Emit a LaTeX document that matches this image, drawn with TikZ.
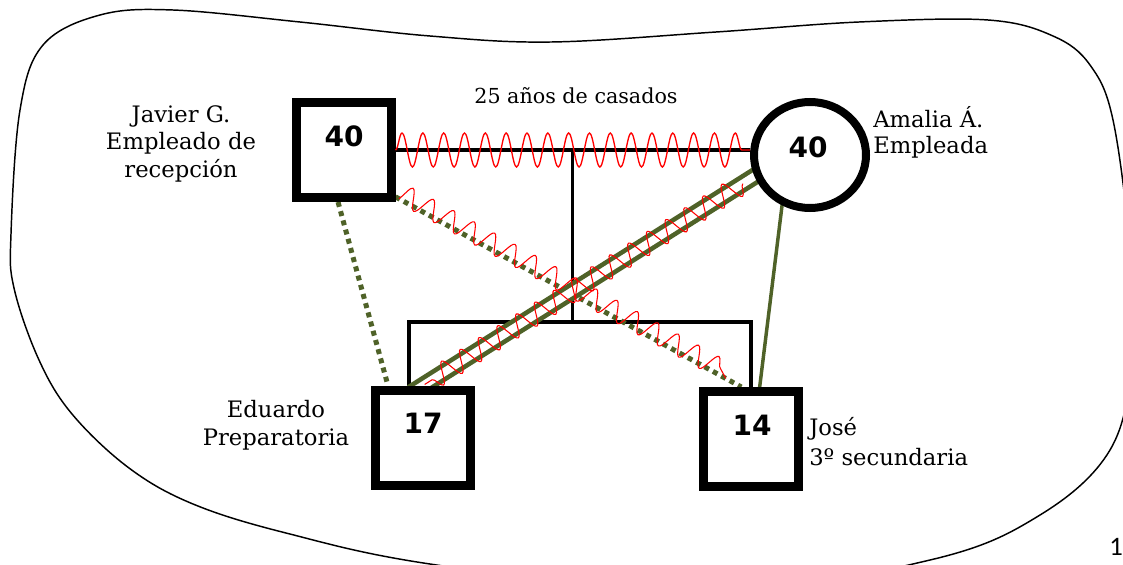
\documentclass[tikz,border=0pt]{standalone}
\usepackage{fontspec}
\setmainfont{DejaVu Serif}
\newfontfamily\agefont{DejaVu Sans}
\newfontfamily\pagefont{Carlito}
\usetikzlibrary{shapes.geometric,calc,decorations.pathmorphing,backgrounds}
\definecolor{kin}{RGB}{79,98,40}
\definecolor{wavered}{RGB}{255,0,0}

\begin{document}
\begin{tikzpicture}[x=0.75pt,y=-0.75pt,
  male/.style={draw,fill=white,line width=6.75pt,minimum size=71.25pt,inner sep=0pt},
  female/.style={ellipse,draw,fill=white,line width=6pt,minimum width=84pt,minimum height=79.5pt,inner sep=0pt},
  age/.style={font=\agefont\bfseries\fontsize{21}{24}\selectfont,inner sep=0pt},
  lbl/.style={inner sep=0pt},
  famline/.style={line width=3pt},
  dotline/.style={kin,line width=3.75pt,dash pattern=on 3.75pt off 3.4pt},
  bondline/.style={kin,line width=3.5pt,double=white,double distance=6pt},
  solidkin/.style={kin,line width=2.6pt},
  wave/.style={wavered,line width=0.8pt},
]
\useasboundingbox (0,0) rectangle (1123,564);

% family members
\node[male] (javier) at (343.5,150) {};
\node[female] (amalia) at (810,155) {};
\node[male] (eduardo) at (423,437.5) {};
\node[male] (jose) at (750.5,439) {};

\node[age] (javier-age) at (344,136) {40};
\node[age] (amalia-age) at (808,147) {40};
\node[age] (eduardo-age) at (423,423) {17};
\node[age] (jose-age) at (752,425) {14};

% names and occupations (anchored on the baseline of the last line)
\node[lbl,align=center,anchor=base,font=\fontsize{17}{20.6}\selectfont] (javier-txt) at (181,177)
  {Javier G.\\Empleado de\\recepción};
\node[lbl,align=left,anchor=base west,font=\fontsize{17}{19.5}\selectfont] (amalia-txt) at (873,153)
  {Amalia Á.\\Empleada};
\node[lbl,align=center,anchor=base,font=\fontsize{17}{21}\selectfont] (eduardo-txt) at (276,445)
  {Eduardo\\Preparatoria};
\node[lbl,align=left,anchor=base west,font=\fontsize{17}{22.5}\selectfont] (jose-txt) at (809,465)
  {José\\3º secundaria};
\node[lbl,anchor=base,font=\fontsize{15.5}{18}\selectfont] (wed-txt) at (576,103) {25 años de casados};
\node[lbl,font=\pagefont\fontsize{20}{24}\selectfont] (page) at (1116,547) {1};

% helper points of the family tree
\coordinate (wedR) at (amalia.west |- javier.east);
\coordinate (mid) at ($(javier.east)!0.5!(wedR)$);
\coordinate (legL) at (409,322);
\coordinate (sib) at (mid |- legL);
\coordinate (legR) at (jose.north |- legL);

\begin{scope}[on background layer]
  % outline around the family
  \draw[line width=1.1pt] plot[smooth cycle,tension=0.6] coordinates {
    (20,110) (43,45) (100,15) (173,10) (300,22) (430,36) (551,42) (716,32)
    (859,22) (988,20) (1053,36) (1090,65) (1113,120) (1130,250) (1132,360)
    (1110,450) (1040,515) (930,560) (700,595) (430,564) (286,533) (193,504)
    (129,468) (72,414) (39,360) (14,288) (11,234)};

  % marriage and descent lines
  \draw[famline] (javier.east) -- (wedR);
  \draw[line width=2.5pt] (mid) -- (sib);
  \draw[famline,line join=miter] (eduardo.north -| legL) -- (legL) -- (legR) -- (jose.north);

  % relationship lines
  \draw[dotline] (javier.264) -- (eduardo.124);
  \draw[dotline] (javier.-42) -- (jose.100);
  \draw[bondline,shorten <=-10pt,shorten >=-10pt] (amalia.201) -- (eduardo.north);
  \draw[solidkin,shorten <=-4pt] (amalia.241) -- (jose.80);
\end{scope}

% conflict waves
\draw[wave,line width=1pt] let \p1=($(wedR)-(javier.east)$), \n1={veclen(\x1,\y1)/17.02} in
  decorate[decoration={snake,segment length=\n1,amplitude=12.75pt}] {(javier.east) -- (wedR)};

\coordinate (w1a) at ($(javier.-42)!0.01!(jose.100)$);
\coordinate (w1b) at ($(javier.-42)!0.955!(jose.100)$);
\draw[wave] let \p1=($(w1b)-(w1a)$), \n1={veclen(\x1,\y1)/16.02} in
  decorate[decoration={snake,segment length=\n1,amplitude=7.5pt,raise=4.5pt}] {(w1a) -- (w1b)};

\coordinate (w2a) at ($(amalia.201)!0.035!(eduardo.north)$);
\coordinate (w2b) at ($(amalia.201)!0.995!(eduardo.north)$);
\draw[wave] let \p1=($(w2b)-(w2a)$), \n1={veclen(\x1,\y1)/17.02} in
  decorate[decoration={snake,segment length=\n1,amplitude=8pt}] {(w2a) -- (w2b)};
\end{tikzpicture}
\end{document}
